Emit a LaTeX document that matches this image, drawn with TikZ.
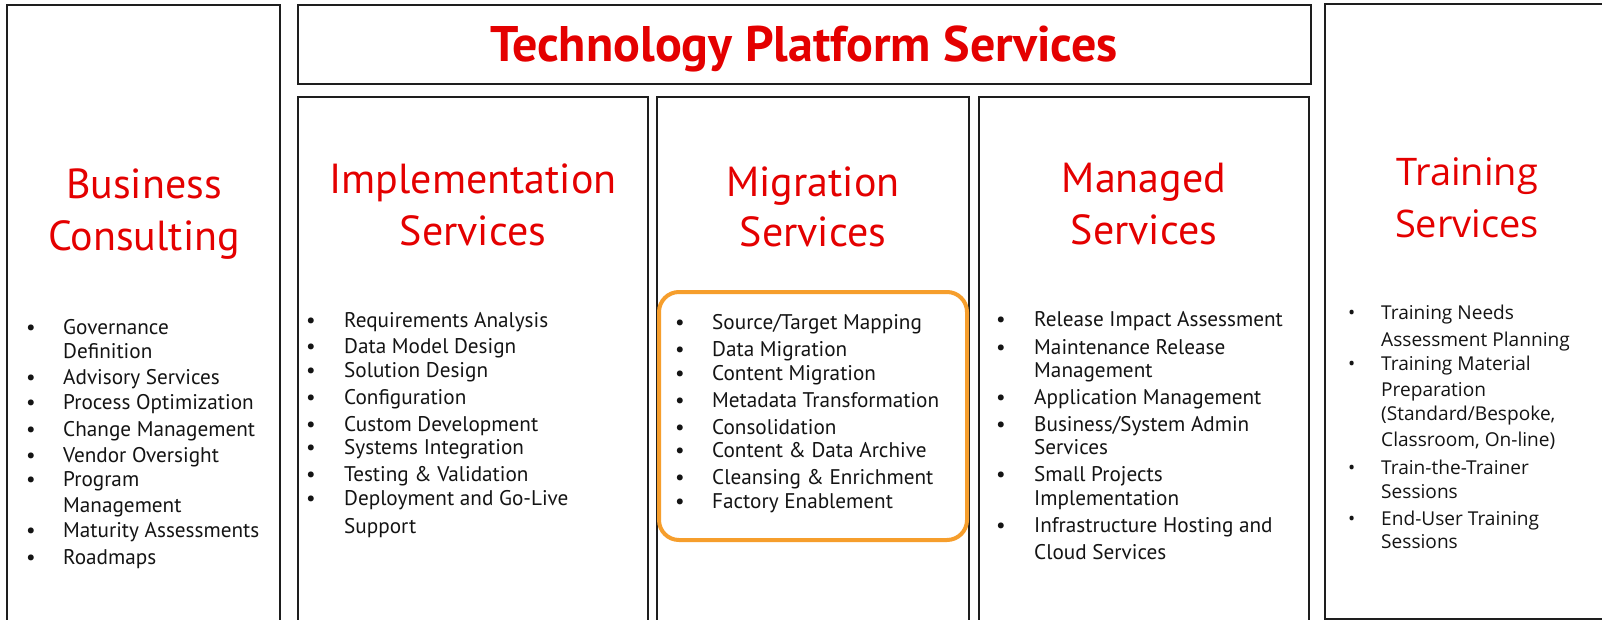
\documentclass[tikz,border=0pt]{standalone}
\usepackage{fontspec}
\setmainfont{PT Sans}
\newfontfamily\trainfont{Open Sans}
\definecolor{hdred}{RGB}{228,0,0}
\definecolor{boxline}{RGB}{30,30,30}
\definecolor{hiorange}{RGB}{246,158,44}
\definecolor{bodytext}{RGB}{20,20,20}
\tikzset{
  panel/.style={draw=boxline, line width=2pt},
  heading/.style={text=hdred, inner sep=0pt, anchor=base, font=\fontsize{42}{50}\selectfont},
  theading/.style={text=hdred, inner sep=0pt, anchor=base, font=\trainfont\fontsize{38}{46}\selectfont},
  txt/.style={text=bodytext, inner sep=0pt, anchor=base west, font=\fontsize{21.2}{25}\selectfont},
  bul/.style={text=bodytext, inner sep=0pt, anchor=base, font=\fontsize{21.2}{25}\selectfont},
  ttxt/.style={txt, font=\trainfont\fontsize{19.1}{23}\selectfont},
  hibox/.style={draw=hiorange, line width=4pt, rounded corners=20pt}
}
\newcommand\bulitem[6][]{%
  \node[bul,#1] (#2b) at (#3,#5) {\textbullet};
  \node[txt,#1] (#2) at (#4,#5) {#6};}
\newcommand\contline[5][]{%
  \node[txt,#1] (#2) at (#3,#4) {#5};}
\begin{document}
\begin{tikzpicture}[x=1pt,y=-1pt]
\useasboundingbox (0,0) rectangle (1602,620);
\fill[white] (0,0) rectangle (1602,620);
\begin{scope}
\clip (0,0) rectangle (1602,620);
% panels
\draw[panel] (7,5) rectangle (280,640);
\draw[panel] (298,5) rectangle (1311,84);
\draw[panel] (298,97) rectangle (648,640);
\draw[panel] (657,97) rectangle (969,640);
\draw[panel] (979,97) rectangle (1309,640);
\draw[panel] (1325,4) rectangle (1612,619);
% highlight box
\draw[hibox] (659,292) rectangle (967,540);
\end{scope}
% title
\node[text=hdred, inner sep=0pt, anchor=base, font=\bfseries\fontsize{50}{58}\selectfont] (title) at (804,62) {Technology Platform Services};
% headings
\node[heading] (bc1) at (144,199) {Business};
\node[heading] (bc2) at (144,251) {Consulting};
\node[heading] (is1) at (473,194) {Implementation};
\node[heading] (is2) at (473,245) {Services};
\node[heading] (ms1) at (813,197) {Migration};
\node[heading] (ms2) at (813,247) {Services};
\node[heading] (mg1) at (1144,193) {Managed};
\node[heading] (mg2) at (1144,244) {Services};
\node[theading] (ts1) at (1467,186) {Training};
\node[theading] (ts2) at (1467,237) {Services};
% Business Consulting list
\bulitem{bA}{31}{63}{334}{Governance}
\contline{bAc}{63}{358}{Definition}
\bulitem{bB}{31}{63}{384}{Advisory Services}
\bulitem{bC}{31}{63}{409}{Process Optimization}
\bulitem{bD}{31}{63}{436}{Change Management}
\bulitem{bE}{31}{63}{462}{Vendor Oversight}
\bulitem{bF}{31}{63}{486}{Program}
\contline{bFc}{63}{512}{Management}
\bulitem{bG}{31}{63}{537}{Maturity Assessments}
\bulitem{bH}{31}{63}{564}{Roadmaps}
% Implementation list
\bulitem{iA}{311}{344}{327}{Requirements Analysis}
\bulitem{iB}{311}{344}{353}{Data Model Design}
\bulitem{iC}{311}{344}{377}{Solution Design}
\bulitem{iD}{311}{344}{404}{Configuration}
\bulitem{iE}{311}{344}{431}{Custom Development}
\bulitem{iF}{311}{344}{454}{Systems Integration}
\bulitem{iG}{311}{344}{481}{Testing \& Validation}
\bulitem{iH}{311}{344}{505}{Deployment and Go-Live}
\contline{iHc}{344}{533}{Support}
% Migration list
\bulitem{mA}{680}{712}{329}{Source/Target Mapping}
\bulitem{mB}{680}{712}{356}{Data Migration}
\bulitem{mC}{680}{712}{380}{Content Migration}
\bulitem{mD}{680}{712}{407}{Metadata Transformation}
\bulitem{mE}{680}{712}{434}{Consolidation}
\bulitem{mF}{680}{712}{457}{Content \& Data Archive}
\bulitem{mG}{680}{712}{484}{Cleansing \& Enrichment}
\bulitem{mH}{680}{712}{508}{Factory Enablement}
% Managed list
\bulitem{gA}{1001}{1034}{326}{Release Impact Assessment}
\bulitem{gB}{1001}{1034}{354}{Maintenance Release}
\contline{gBc}{1034}{377}{Management}
\bulitem{gC}{1001}{1034}{404}{Application Management}
\bulitem{gD}{1001}{1034}{431}{Business/System Admin}
\contline{gDc}{1034}{454}{Services}
\bulitem{gE}{1001}{1034}{481}{Small Projects}
\contline{gEc}{1034}{505}{Implementation}
\bulitem{gF}{1001}{1034}{532}{Infrastructure Hosting and}
\contline{gFc}{1034}{559}{Cloud Services}
% Training list
\bulitem[ttxt]{tA}{1348}{1381}{319}{Training Needs}
\contline[ttxt]{tAc}{1381}{346}{Assessment Planning}
\bulitem[ttxt]{tB}{1348}{1381}{370}{Training Material}
\contline[ttxt]{tBc}{1381}{396}{Preparation}
\contline[ttxt]{tBd}{1381}{420}{(Standard/Bespoke,}
\contline[ttxt]{tBe}{1381}{446}{Classroom, On-line)}
\bulitem[ttxt]{tC}{1348}{1381}{474}{Train-the-Trainer}
\contline[ttxt]{tCc}{1381}{498}{Sessions}
\bulitem[ttxt]{tD}{1348}{1381}{525}{End-User Training}
\contline[ttxt]{tDc}{1381}{548}{Sessions}
\end{tikzpicture}
\end{document}
